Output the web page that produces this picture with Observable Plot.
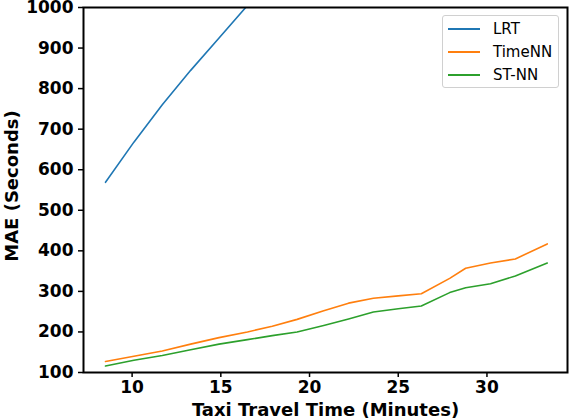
<!DOCTYPE html>
<html>
<head>
<meta charset="utf-8">
<script src="https://cdn.jsdelivr.net/npm/d3@7"></script>
<script src="https://cdn.jsdelivr.net/npm/@observablehq/plot@0.6"></script>
<style>
  body { margin: 0; background: #fff; }
  #wrap { position: relative; width: 570px; height: 420px; }
  #legend { position: absolute; left: 442px; top: 15px; width: 117px; height: 73px;
    border: 1px solid #d0d0d0; border-radius: 3px; background: rgba(255,255,255,0.8);
    font-family: "DejaVu Sans", sans-serif; font-size: 15px; box-sizing: border-box; }
  .row { position: absolute; left: 0; height: 20px; display: flex; align-items: center; }
  .sw { width: 32px; height: 2px; margin-left: 5px; margin-right: 13px; }
</style>
</head>
<body>
<div id="wrap"><div id="legend"></div></div>
<script>
const seriesNames = ["LRT", "TimeNN", "ST-NN"];
const seriesColors = ["#1f77b4", "#ff7f0e", "#2ca02c"];
const xs = [8.5, 10.1, 11.7, 13.3, 14.9, 16.5, 17.9, 19.3, 20.8, 22.2, 23.6, 25.0, 26.3, 27.9, 28.8, 30.2, 31.6, 33.4];
const lrt = [569, 668, 760, 845, 925, 1005, 1075];
const timeNN = [127, 140, 153, 170, 186, 200, 214, 231, 252, 271, 283, 289, 294, 332, 357, 370, 380, 417];
const stNN = [116, 130, 142, 156, 170, 181, 191, 200, 216, 232, 249, 257, 264, 297, 309, 319, 338, 370];
const xTicks = [10, 15, 20, 25, 30];
const yTicks = [100, 200, 300, 400, 500, 600, 700, 800, 900, 1000];

const valuesBySeries = [lrt, timeNN, stNN];
const data = [];
valuesBySeries.forEach((vals, i) => {
  vals.forEach((v, j) => data.push({series: seriesNames[i], x: xs[j], y: v}));
});

const font = "DejaVu Sans, sans-serif";
const chart = Plot.plot({
  width: 570,
  height: 420,
  marginLeft: 83,
  marginRight: 3,
  marginTop: 7,
  marginBottom: 48,
  style: {fontFamily: font, background: "white"},
  x: {domain: [7.26, 34.54]},
  y: {domain: [100, 1000]},
  color: {domain: seriesNames, range: seriesColors},
  marks: [
    Plot.line(data, {x: "x", y: "y", z: "series", stroke: "series", strokeWidth: 1.6, clip: true}),
    Plot.frame({stroke: "black", strokeWidth: 2}),
    Plot.axisX({ticks: xTicks, tickFormat: d => String(d), tickSize: 5, tickPadding: 3, fontSize: 17, fontWeight: "bold", fill: "black", strokeWidth: 1.5, label: null}),
    Plot.axisY({ticks: yTicks, tickFormat: d => String(d), tickSize: 5, tickPadding: 5, fontSize: 17, fontWeight: "bold", fill: "black", strokeWidth: 1.5, label: null}),
    Plot.text(["Taxi Travel Time (Minutes)"], {frameAnchor: "bottom", dy: 38, text: d => d, fontSize: 18, fontWeight: "bold", lineAnchor: "middle", textAnchor: "middle"}),
    Plot.text(["MAE (Seconds)"], {frameAnchor: "left", dx: -71, dy: -4, rotate: -90, text: d => d, fontSize: 18, fontWeight: "bold", lineAnchor: "middle", textAnchor: "middle"})
  ]
});
document.getElementById("wrap").prepend(chart);

const legend = document.getElementById("legend");
seriesNames.forEach((name, i) => {
  const row = document.createElement("div");
  row.className = "row";
  row.style.top = (3 + i * 23) + "px";
  const sw = document.createElement("div");
  sw.className = "sw";
  sw.style.background = seriesColors[i];
  const label = document.createElement("span");
  label.textContent = name;
  row.appendChild(sw);
  row.appendChild(label);
  legend.appendChild(row);
});
</script>
</body>
</html>
